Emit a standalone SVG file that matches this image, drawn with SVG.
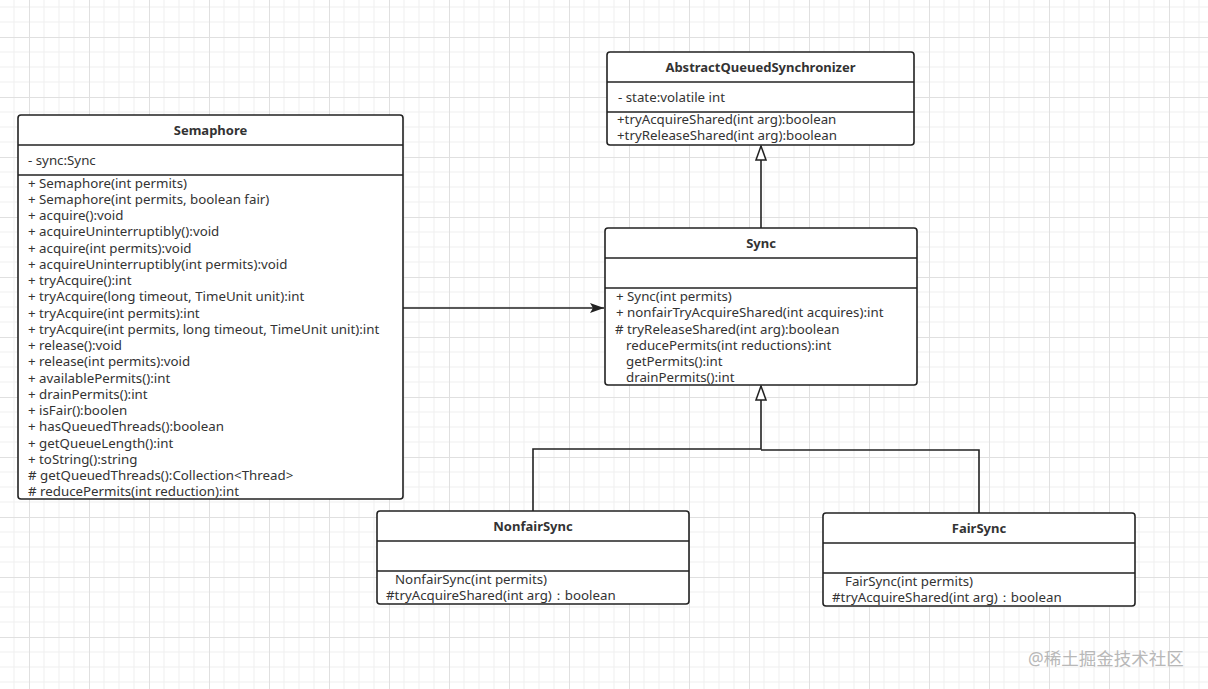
<svg xmlns="http://www.w3.org/2000/svg" width="1208" height="689" viewBox="0 0 1208 689">
<defs>
<pattern id="grid" patternUnits="userSpaceOnUse" x="29" y="37" width="60" height="60">
<path d="M15 0V60M30 0V60M45 0V60M0 15H60M0 30H60M0 45H60" stroke="#efefef" stroke-width="1" fill="none"/>
<path d="M0.5 0V60M0 0.5H60" stroke="#e0e0e0" stroke-width="1" fill="none"/>
</pattern>
<marker id="hollow" viewBox="0 0 16 12" refX="15" refY="6" markerWidth="16" markerHeight="12" markerUnits="userSpaceOnUse" orient="auto">
<path d="M15 6L1 11V1Z" fill="#fff" stroke="#222" stroke-width="1.5"/>
</marker>
<marker id="filled" viewBox="0 0 14 10" refX="14" refY="5" markerWidth="14" markerHeight="10" markerUnits="userSpaceOnUse" orient="auto">
<path d="M0 0L14 5L0 10L3 5Z" fill="#222"/>
</marker>
</defs>
<style>
.box{fill:#fff;stroke:#222;stroke-width:1.6}
.div{stroke:#222;stroke-width:1.6}
.t{font-family:"Noto Sans","Open Sans",sans-serif;font-size:13.3px;fill:#333}
.h{font-family:"Noto Sans","Open Sans",sans-serif;font-size:13px;font-weight:bold;fill:#333;text-anchor:middle}
.c{fill:none;stroke:#222;stroke-width:1.6}
</style>
<rect width="1208" height="689" fill="#fff"/>
<rect width="1208" height="689" fill="url(#grid)"/>

<g id="connectors">
<path class="c" d="M761 228V146" marker-end="url(#hollow)"/>
<path class="c" d="M403 308H604" marker-end="url(#filled)"/>
<path class="c" d="M533 511V449H761V386" marker-end="url(#hollow)"/>
<path class="c" d="M979 513V450H761"/>
</g>

<g id="aqs">
<rect class="box" x="607" y="52" width="307" height="93" rx="3"/>
<line class="div" x1="607" y1="82" x2="914" y2="82"/>
<line class="div" x1="607" y1="112" x2="914" y2="112"/>
<text class="h" x="760.5" y="72">AbstractQueuedSynchronizer</text>
<text class="t" x="618" y="102">- state:volatile int</text>
<text class="t" x="617" y="124">+tryAcquireShared(int arg):boolean</text>
<text class="t" x="617" y="140">+tryReleaseShared(int arg):boolean</text>
</g>

<g id="semaphore">
<rect class="box" x="18" y="115" width="385" height="384" rx="3"/>
<line class="div" x1="18" y1="145" x2="403" y2="145"/>
<line class="div" x1="18" y1="175" x2="403" y2="175"/>
<text class="h" x="210.5" y="135">Semaphore</text>
<text class="t" x="28" y="165">- sync:Sync</text>
<text class="t" x="28" y="188">+ Semaphore(int permits)</text>
<text class="t" x="28" y="204">+ Semaphore(int permits, boolean fair)</text>
<text class="t" x="28" y="220">+ acquire():void</text>
<text class="t" x="28" y="236">+ acquireUninterruptibly():void</text>
<text class="t" x="28" y="253">+ acquire(int permits):void</text>
<text class="t" x="28" y="269">+ acquireUninterruptibly(int permits):void</text>
<text class="t" x="28" y="285">+ tryAcquire():int</text>
<text class="t" x="28" y="301">+ tryAcquire(long timeout, TimeUnit unit):int</text>
<text class="t" x="28" y="318">+ tryAcquire(int permits):int</text>
<text class="t" x="28" y="334">+ tryAcquire(int permits, long timeout, TimeUnit unit):int</text>
<text class="t" x="28" y="350">+ release():void</text>
<text class="t" x="28" y="366">+ release(int permits):void</text>
<text class="t" x="28" y="383">+ availablePermits():int</text>
<text class="t" x="28" y="399">+ drainPermits():int</text>
<text class="t" x="28" y="415">+ isFair():boolen</text>
<text class="t" x="28" y="431">+ hasQueuedThreads():boolean</text>
<text class="t" x="28" y="448">+ getQueueLength():int</text>
<text class="t" x="28" y="464">+ toString():string</text>
<text class="t" x="28" y="480"># getQueuedThreads():Collection&lt;Thread&gt;</text>
<text class="t" x="28" y="496"># reducePermits(int reduction):int</text>
</g>

<g id="sync">
<rect class="box" x="605" y="228" width="312" height="157" rx="3"/>
<line class="div" x1="605" y1="258" x2="917" y2="258"/>
<line class="div" x1="605" y1="288" x2="917" y2="288"/>
<text class="h" x="761" y="248">Sync</text>
<text class="t" x="616" y="301">+ Sync(int permits)</text>
<text class="t" x="616" y="317">+ nonfairTryAcquireShared(int acquires):int</text>
<text class="t" x="615" y="334"># tryReleaseShared(int arg):boolean</text>
<text class="t" x="626" y="350">reducePermits(int reductions):int</text>
<text class="t" x="626" y="366">getPermits():int</text>
<text class="t" x="626" y="382">drainPermits():int</text>
</g>

<g id="nonfairsync">
<rect class="box" x="377" y="511" width="312" height="93" rx="3"/>
<line class="div" x1="377" y1="541" x2="689" y2="541"/>
<line class="div" x1="377" y1="571" x2="689" y2="571"/>
<text class="h" x="533" y="531">NonfairSync</text>
<text class="t" x="395" y="584">NonfairSync(int permits)</text>
<text class="t" x="386" y="600">#tryAcquireShared(int arg)：boolean</text>
</g>

<g id="fairsync">
<rect class="box" x="823" y="513" width="312" height="93" rx="3"/>
<line class="div" x1="823" y1="543" x2="1135" y2="543"/>
<line class="div" x1="823" y1="573" x2="1135" y2="573"/>
<text class="h" x="979" y="533">FairSync</text>
<text class="t" x="845" y="586">FairSync(int permits)</text>
<text class="t" x="832" y="602">#tryAcquireShared(int arg)：boolean</text>
</g>

<text x="1028" y="665" font-family="'Noto Sans','Noto Sans CJK SC',sans-serif" font-size="17.5" fill="#b8b8b8">@稀土掘金技术社区</text>
</svg>
